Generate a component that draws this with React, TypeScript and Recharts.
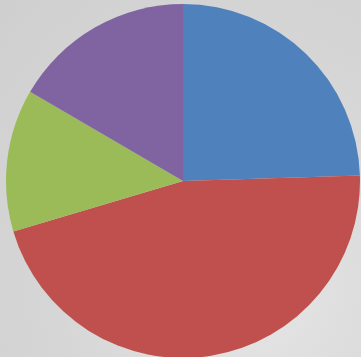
import React from "react";
import { PieChart, Pie, Cell } from "recharts";

const categories = ["A", "B", "C", "D"];
const values = [24.5, 45.9, 13.0, 16.6];
const colors = ["#4F81BD", "#C0504D", "#9BBB59", "#8064A2"];

const data = categories.map((name, i) => ({ name, value: values[i] }));

export default function App() {
  return (
    <div
      style={{
        position: "fixed",
        left: 0,
        top: 0,
        width: 361,
        height: 357,
        overflow: "hidden",
        background:
          "radial-gradient(ellipse at 70% 80%, #e6e6e6 0%, #d6d6d6 55%, #cfcfcf 100%)",
      }}
    >
      <PieChart width={361} height={357} margin={{ top: 0, right: 0, bottom: 0, left: 0 }}>
        <Pie
          data={data}
          dataKey="value"
          nameKey="name"
          cx={183}
          cy={181}
          outerRadius={177}
          startAngle={90}
          endAngle={-270}
          isAnimationActive={false}
          stroke="none"
        >
          {data.map((d, i) => (
            <Cell key={d.name} fill={colors[i]} />
          ))}
        </Pie>
      </PieChart>
    </div>
  );
}
